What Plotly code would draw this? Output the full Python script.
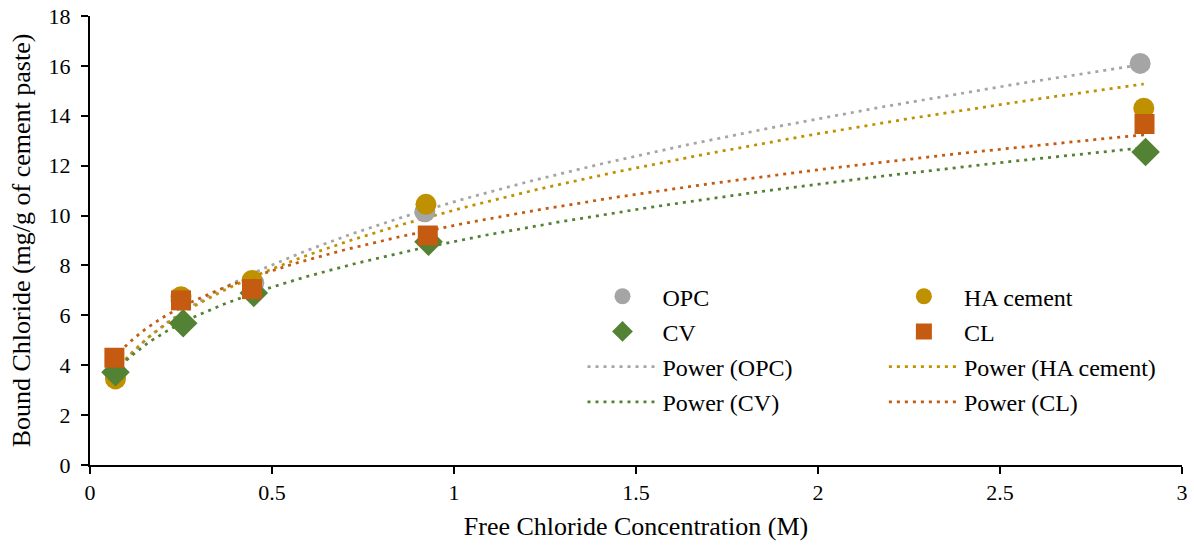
import numpy as np
import plotly.graph_objects as go

# Free chloride concentration (M) and bound chloride (mg/g of cement paste)
opc_x = [0.07, 0.25, 0.45, 0.92, 2.885]
opc_y = [3.6, 6.6, 7.3, 10.15, 16.1]

ha_x = [0.07, 0.25, 0.445, 0.923, 2.895]
ha_y = [3.45, 6.75, 7.4, 10.45, 14.3]

cv_x = [0.07, 0.256, 0.45, 0.93, 2.90]
cv_y = [3.72, 5.68, 6.9, 8.95, 12.55]

cl_x = [0.067, 0.25, 0.445, 0.928, 2.897]
cl_y = [4.3, 6.6, 7.05, 9.2, 13.67]

names = ["OPC", "HA cement", "CV", "CL"]
colors = ["#A5A5A5", "#BF9000", "#548235", "#C55A11"]
symbols = ["circle", "circle", "diamond", "square"]

x_ticks = [0, 0.5, 1, 1.5, 2, 2.5, 3]
x_tick_labels = ["0", "0.5", "1", "1.5", "2", "2.5", "3"]
y_ticks = list(range(0, 19, 2))

series = [(opc_x, opc_y), (ha_x, ha_y), (cv_x, cv_y), (cl_x, cl_y)]
# OPC and CV in the left legend column, HA cement and CL in the right one
legend_of = ["legend", "legend2", "legend", "legend2"]
rank_of = [1, 1, 2, 2]

font_family = "Liberation Serif"

fig = go.Figure()


def power_fit(xs, ys):
    """Least-squares power trendline y = a * x^b (fit in log-log space)."""
    b, ln_a = np.polyfit(np.log(xs), np.log(ys), 1)
    return np.exp(ln_a), b


# Trendlines first so markers sit on top
for i, (xs, ys) in enumerate(series):
    a, b = power_fit(np.array(xs), np.array(ys))
    xf = np.linspace(min(xs), max(xs), 200)
    fig.add_trace(go.Scatter(
        x=xf, y=a * xf ** b, mode="lines",
        name=f"Power ({names[i]})",
        line=dict(color=colors[i], width=2.75, dash="3px,5px"),
        legend=legend_of[i], legendrank=rank_of[i] + 2,
        legendgroup=f"p{i}",
    ))

marker_size = {"circle": 21, "square": 20, "diamond": 22}
for i, (xs, ys) in enumerate(series):
    fig.add_trace(go.Scatter(
        x=xs, y=ys, mode="markers", name=names[i],
        marker=dict(color=colors[i], symbol=symbols[i], size=marker_size[symbols[i]],
                    line=dict(width=0)),
        legend=legend_of[i], legendrank=rank_of[i],
        legendgroup=f"m{i}",
    ))

legend_common = dict(
    font=dict(family=font_family, size=24, color="#000000"),
    bgcolor="rgba(0,0,0,0)", itemwidth=70, tracegroupgap=1,
    xanchor="left", yanchor="top", itemsizing="trace",
)

fig.update_layout(
    width=1194, height=548,
    margin=dict(l=90, r=12, t=16, b=83),
    paper_bgcolor="white", plot_bgcolor="white",
    font=dict(family=font_family, size=22, color="#000000"),
    showlegend=True,
    legend=dict(x=0.451, y=0.425, **legend_common),
    legend2=dict(x=0.727, y=0.425, **legend_common),
    xaxis=dict(
        range=[0, 3], tickvals=x_ticks, ticktext=x_tick_labels,
        showgrid=False, zeroline=False, automargin=False,
        showline=True, linecolor="#000000", linewidth=2,
        ticks="outside", ticklen=7, tickwidth=1.5, tickcolor="#000000",
        tickfont=dict(size=22),
        title=dict(text="Free Chloride Concentration (M)", font=dict(size=26), standoff=12),
    ),
    yaxis=dict(
        range=[0, 18], tickvals=y_ticks,
        showgrid=False, zeroline=False, automargin=False,
        showline=True, linecolor="#000000", linewidth=2,
        ticks="outside", ticklen=7, tickwidth=1.5, tickcolor="#000000",
        tickfont=dict(size=22), ticklabelstandoff=6,
        title=dict(text="Bound Chloride (mg/g of cement paste)", font=dict(size=26), standoff=10),
    ),
)

fig.write_html("out.html")
